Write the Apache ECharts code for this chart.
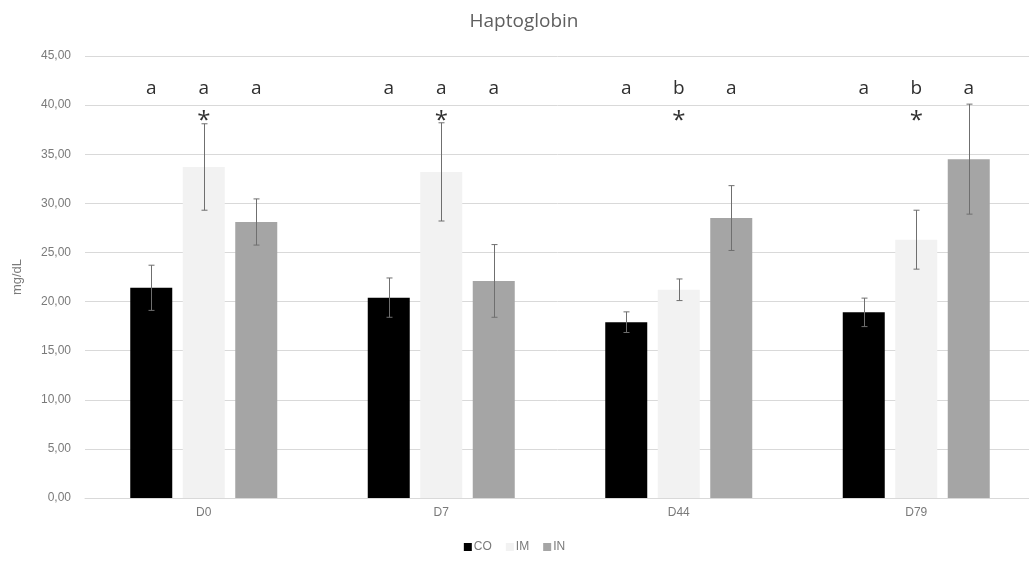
<!DOCTYPE html>
<html>
<head>
<meta charset="utf-8">
<script src="https://cdn.jsdelivr.net/npm/echarts@6/dist/echarts.min.js"></script>
<style>
html,body{margin:0;padding:0;background:#fff;}
#chart{width:1029px;height:564px;}
</style>
</head>
<body>
<div id="chart"></div>
<script>
// ---- data ----
const categories = ['D0', 'D7', 'D44', 'D79'];
const seriesNames = ['CO', 'IM', 'IN'];
const coValues = [21.4, 20.4, 17.9, 18.9];
const imValues = [33.7, 33.2, 21.2, 26.3];
const inValues = [28.1, 22.1, 28.5, 34.5];
const coErrors = [2.3, 2.0, 1.05, 1.45];
const imErrors = [4.4, 5.0, 1.1, 3.0];
const inErrors = [2.35, 3.7, 3.3, 5.6];
const coLetters = ['a', 'a', 'a', 'a'];
const imLetters = ['a', 'a', 'b', 'b'];
const inLetters = ['a', 'a', 'a', 'a'];
const imMarks = ['*', '*', '*', '*'];
const yMin = 0, yMax = 45, yInterval = 5;

// ---- layout / style ----
const BAR_W = 42;
const PITCH = 52.5;
const LETTER_LEVEL = 41.7;
const MARK_LEVEL = 38.4;
const colors = ['#000000', '#f2f2f2', '#a5a5a5'];
const textColor = '#7a7a7a';

const groups = [
  {values: coValues, errors: coErrors, letters: coLetters},
  {values: imValues, errors: imErrors, letters: imLetters},
  {values: inValues, errors: inErrors, letters: inLetters}
];

function errorSeries(gi) {
  const g = groups[gi];
  return {
    type: 'custom',
    silent: true,
    z: 5,
    data: categories.map((c, i) => [i, g.values[i], g.errors[i]]),
    renderItem: function (params, api) {
      const i = api.value(0), v = api.value(1), e = api.value(2);
      const top = api.coord([i, v + e]);
      const bot = api.coord([i, v - e]);
      const x = Math.round(top[0] + (gi - 1) * PITCH) + 0.5;
      const st = {stroke: '#6f6f6f', lineWidth: 1};
      return {
        type: 'group',
        children: [
          {type: 'line', shape: {x1: x, y1: top[1], x2: x, y2: bot[1]}, style: st},
          {type: 'line', shape: {x1: x - 3, y1: top[1], x2: x + 3, y2: top[1]}, style: st},
          {type: 'line', shape: {x1: x - 3, y1: bot[1], x2: x + 3, y2: bot[1]}, style: st}
        ]
      };
    }
  };
}

function textSeries(gi, texts, level, size) {
  return {
    type: 'custom',
    silent: true,
    z: 6,
    data: categories.map((c, i) => [i, level]),
    renderItem: function (params, api) {
      const i = api.value(0);
      const p = api.coord([i, api.value(1)]);
      return {
        type: 'text',
        x: p[0] + (gi - 1) * PITCH,
        y: p[1],
        style: {
          text: texts[params.dataIndex],
          fill: '#303030',
          font: size + 'px "Open Sans", "Liberation Sans", sans-serif',
          align: 'center',
          verticalAlign: 'middle'
        }
      };
    }
  };
}

const barSeries = groups.map((g, gi) => ({
  name: seriesNames[gi],
  type: 'bar',
  data: g.values,
  barWidth: BAR_W,
  barGap: '25%',
  itemStyle: {color: colors[gi]},
  z: 2
}));

const chart = echarts.init(document.getElementById('chart'));
chart.setOption({
  animation: false,
  backgroundColor: '#ffffff',
  title: {
    text: 'Haptoglobin',
    left: 519,
    textAlign: 'center',
    top: 7,
    textStyle: {color: '#5f5f5f', fontSize: 19, fontWeight: 'normal', fontFamily: '"Open Sans", sans-serif'}
  },
  legend: {
    data: seriesNames,
    bottom: 6,
    left: 'center',
    icon: 'rect',
    itemWidth: 8,
    itemHeight: 8,
    itemGap: 14,
    textStyle: {color: textColor, fontSize: 12, padding: [0, 0, 0, -3]}
  },
  grid: {left: 85, top: 56, width: 950, height: 442, outerBoundsMode: 'none'},
  xAxis: {
    type: 'category',
    data: categories,
    axisLine: {lineStyle: {color: '#d9d9d9'}},
    axisTick: {show: false},
    axisLabel: {color: textColor, fontSize: 12, margin: 9}
  },
  yAxis: {
    type: 'value',
    min: yMin,
    max: yMax,
    interval: yInterval,
    name: 'mg/dL',
    nameLocation: 'middle',
    nameGap: 61,
    nameTextStyle: {color: textColor, fontSize: 13},
    axisLine: {show: false},
    axisTick: {show: false},
    splitLine: {lineStyle: {color: '#d9d9d9'}},
    axisLabel: {
      color: textColor,
      fontSize: 12,
      margin: 14,
      formatter: v => v.toFixed(2).replace('.', ',')
    }
  },
  series: [
    ...barSeries,
    errorSeries(0), errorSeries(1), errorSeries(2),
    textSeries(0, coLetters, LETTER_LEVEL, 19),
    textSeries(1, imLetters, LETTER_LEVEL, 19),
    textSeries(2, inLetters, LETTER_LEVEL, 19),
    textSeries(1, imMarks, MARK_LEVEL, 24)
  ]
});
</script>
</body>
</html>
